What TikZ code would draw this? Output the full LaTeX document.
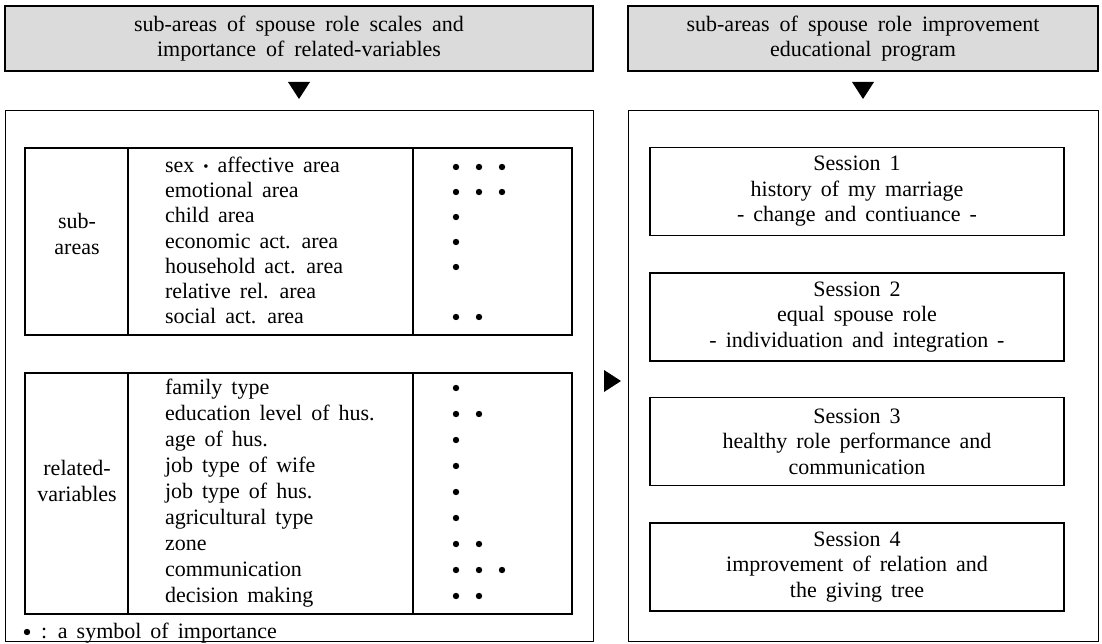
\documentclass[tikz,border=0pt]{standalone}
\usepackage{fontspec}
\setmainfont{Liberation Serif}
\newcommand\wfont{\fontsize{22}{25.5}\selectfont\spaceskip=9pt plus 2pt\relax}
\newcommand\hfont{\fontsize{22}{25}\selectfont\spaceskip=10pt plus 2pt\relax}
\begin{document}
\begin{tikzpicture}[x=1pt,y=-1pt,
  every node/.style={font=\wfont, inner sep=0pt, outer sep=0pt},
  headbox/.style={draw, line width=1.8pt, fill=black!14},
  bigbox/.style={draw, line width=0.9pt},
  tabbox/.style={draw, line width=1.8pt},
  sessbox/.style={draw, line width=1.8pt, minimum width=414pt, minimum height=88pt, align=center},
  rowtxt/.style={anchor=base west},
  dotmark/.style={fill=black},
]
\useasboundingbox (0,0) rectangle (1102,644);
% headers
\draw[headbox] (5,6) rectangle (593,71);
\draw[headbox] (628,6) rectangle (1098,71);
\node[align=center, font=\hfont] (hl) at (299,39) {sub-areas of spouse role scales and\\importance of related-variables};
\node[align=center, font=\hfont] (hr) at (863,39) {sub-areas of spouse role improvement\\educational program};
% down triangles
\fill (288,82) -- (310,82) -- (299,99) -- cycle;
\fill (852,82) -- (874,82) -- (863,99) -- cycle;
% big boxes
\draw[bigbox] (5,110) rectangle (593,641);
\draw[bigbox] (628,110) rectangle (1098,641);
% right triangle
\fill (604,370) -- (604,392) -- (621,381) -- cycle;
% table 1
\draw[tabbox] (25,148) rectangle (572,335);
\draw[tabbox] (128,148) -- (128,335);
\draw[tabbox] (413,148) -- (413,335);
\node[align=center] (lab1) at (77,234) {sub-\\areas};
\foreach \t [count=\i from 0] in {sex {\fontsize{15}{15}\selectfont\raisebox{1pt}{•}} affective area, emotional area, child area, economic act. area, household act. area, relative rel. area, social act. area}
  \node[rowtxt] (a\i) at (165,{173+25*\i}) {\t};
\foreach \r/\n in {0/3,1/3,2/1,3/1,4/1,6/2}
  \foreach \k in {1,...,\n}
    \fill[dotmark] ({456+23*(\k-1)},{167+25*\r}) circle (3.2);
% table 2
\draw[tabbox] (25,373) rectangle (572,614);
\draw[tabbox] (128,373) -- (128,614);
\draw[tabbox] (413,373) -- (413,614);
\node[align=center] (lab2) at (77,481) {related-\\variables};
\foreach \t [count=\i from 0] in {family type, education level of hus., age of hus., job type of wife, job type of hus., agricultural type, zone, communication, decision making}
  \node[rowtxt] (b\i) at (165,{394+26*\i}) {\t};
\foreach \r/\n in {0/1,1/2,2/1,3/1,4/1,5/1,6/2,7/3,8/2}
  \foreach \k in {1,...,\n}
    \fill[dotmark] ({456+23*(\k-1)},{388+26*\r}) circle (3.2);
% footnote
\fill[dotmark] (27,632) circle (3.2);
\node[rowtxt] (foot) at (41,638) {: a symbol of importance};
% sessions
\node[sessbox] (s1) at (857,191.5) {Session 1\\history of my marriage\\- change and contiuance -};
\node[sessbox] (s2) at (857,317) {Session 2\\equal spouse role\\- individuation and integration -};
\node[sessbox] (s3) at (857,441.5) {Session 3\\healthy role performance and\\communication};
\node[sessbox] (s4) at (857,567) {Session 4\\improvement of relation and\\the giving tree};
\end{tikzpicture}
\end{document}
